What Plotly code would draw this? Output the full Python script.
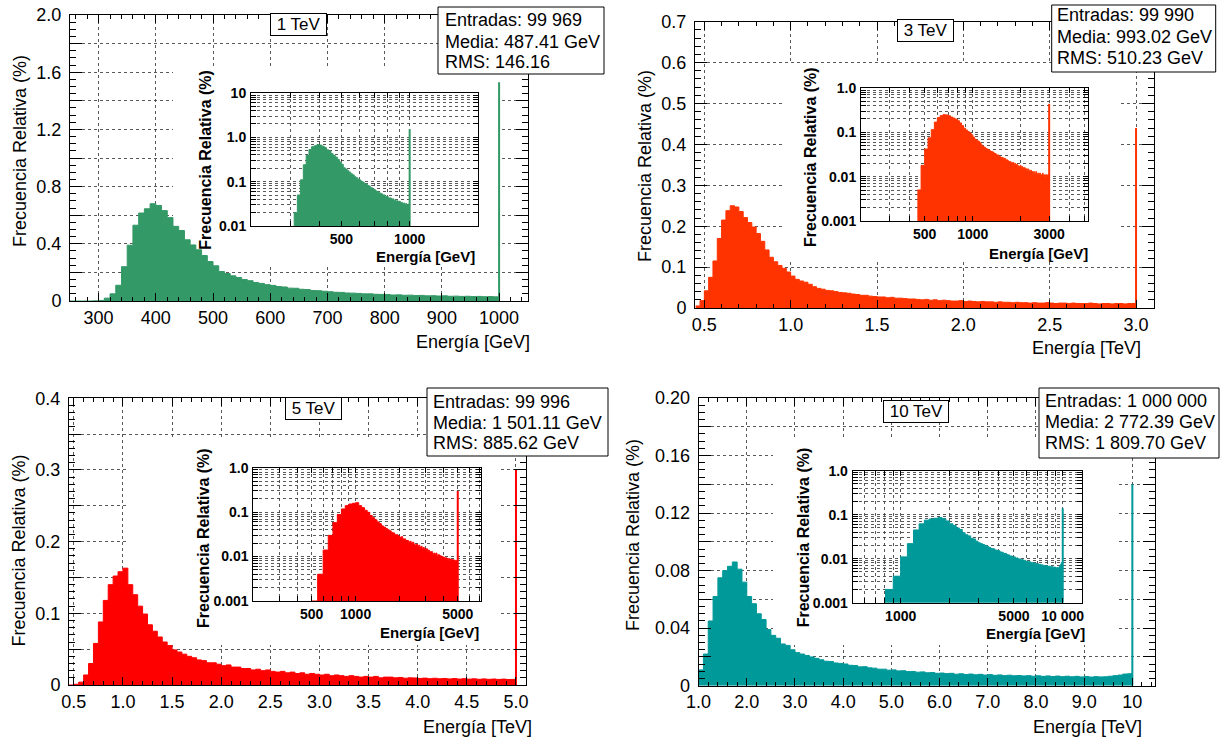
import math
import numpy as np
import plotly.graph_objects as go

W, H = 1221, 738
FONT = "Liberation Sans"

# ======================= DATA =======================
# --- 1 TeV (energy in GeV, bins of 10 GeV) ---
edges_1tev = np.arange(250, 1001, 10)
freq_1tev = [0, 0, 0, 0, 0.001, 0.004, 0.02, 0.05, 0.11, 0.24,
             0.39, 0.53, 0.615, 0.645, 0.68, 0.668, 0.632, 0.583, 0.522, 0.493,
             0.428, 0.392, 0.358, 0.318, 0.276, 0.246, 0.206, 0.192, 0.176, 0.164,
             0.150, 0.142, 0.129, 0.123, 0.114, 0.109, 0.101, 0.098, 0.090, 0.089,
             0.082, 0.080, 0.073, 0.072, 0.068, 0.065, 0.061, 0.060, 0.056, 0.055,
             0.053, 0.050, 0.050, 0.047, 0.046, 0.045, 0.042, 0.043, 0.040, 0.041,
             0.038, 0.039, 0.036, 0.037, 0.035, 0.036, 0.033, 0.034, 0.032, 0.033,
             0.031, 0.032, 0.030, 0.031, 0.029]
spike_energy_1tev, spike_freq_1tev = 1000, 1.53

# --- 3 TeV (energy in TeV, bins of 0.025 TeV) ---
edges_3tev = np.round(np.arange(0.45, 3.0001, 0.025), 4)
freq_3tev = [0.005, 0.018, 0.042, 0.075, 0.115, 0.17, 0.215, 0.238, 0.25, 0.247,
             0.236, 0.221, 0.209, 0.198, 0.182, 0.163, 0.142, 0.124, 0.113, 0.104,
             0.097, 0.088, 0.078, 0.070, 0.066, 0.063, 0.058, 0.052, 0.048, 0.046,
             0.043, 0.042, 0.040, 0.038, 0.037, 0.036, 0.034, 0.033, 0.031, 0.031,
             0.029, 0.028, 0.027, 0.027, 0.025, 0.026, 0.024, 0.024, 0.023, 0.022,
             0.022, 0.021, 0.020, 0.021, 0.019, 0.020, 0.018, 0.019, 0.018, 0.017,
             0.017, 0.018, 0.016, 0.017, 0.016, 0.015, 0.016, 0.015, 0.015, 0.014,
             0.015, 0.014, 0.014, 0.013, 0.014, 0.013, 0.013, 0.012, 0.013, 0.012,
             0.012, 0.013, 0.012, 0.011, 0.012, 0.012, 0.011, 0.012, 0.011, 0.011,
             0.011, 0.012, 0.011, 0.010, 0.011, 0.011, 0.010, 0.011, 0.011, 0.010,
             0.011, 0.011]
spike_energy_3tev, spike_freq_3tev = 3.0, 0.44

# --- 5 TeV (energy in TeV, bins of 0.05 TeV) ---
edges_5tev = np.round(np.arange(0.45, 5.0001, 0.05), 4)
freq_5tev = [0.0, 0.001, 0.004, 0.014, 0.03, 0.058, 0.088, 0.118, 0.14, 0.152,
             0.158, 0.163, 0.14, 0.126, 0.11, 0.099, 0.084, 0.075, 0.067, 0.06,
             0.055, 0.049, 0.046, 0.043, 0.040, 0.038, 0.035, 0.034, 0.031, 0.031,
             0.029, 0.027, 0.028, 0.025, 0.025, 0.023, 0.023, 0.021, 0.022, 0.020,
             0.021, 0.019, 0.018, 0.019, 0.017, 0.018, 0.016, 0.017, 0.015, 0.016,
             0.015, 0.014, 0.015, 0.013, 0.014, 0.013, 0.012, 0.013, 0.012, 0.011,
             0.012, 0.011, 0.012, 0.010, 0.011, 0.011, 0.010, 0.0105, 0.0095, 0.010,
             0.0098, 0.0092, 0.0096, 0.0088, 0.0094, 0.0087, 0.0091, 0.0085, 0.009, 0.0083,
             0.0088, 0.0082, 0.0086, 0.008, 0.0085, 0.0079, 0.0083, 0.0078, 0.0082, 0.0076,
             0.0078]
spike_energy_5tev, spike_freq_5tev = 5.0, 0.30

# --- 10 TeV (energy in TeV, bins of 0.1 TeV) ---
edges_10tev = np.round(np.arange(0.8, 10.0001, 0.1), 4)
freq_10tev = [0.002, 0.004,
              0.011, 0.022, 0.045, 0.062, 0.075, 0.080, 0.083, 0.086, 0.081, 0.072,
              0.062, 0.057, 0.050, 0.046, 0.039, 0.035, 0.033, 0.029, 0.028, 0.025,
              0.023, 0.022, 0.021, 0.020, 0.019, 0.018, 0.017, 0.0168, 0.0158, 0.0155,
              0.0151, 0.0142, 0.014, 0.0131, 0.0132, 0.0124, 0.0122, 0.0115, 0.0115, 0.0108,
              0.011, 0.0103, 0.0104, 0.0098, 0.0099, 0.0094, 0.0096, 0.009, 0.0092, 0.0086,
              0.0088, 0.0084, 0.0086, 0.008, 0.0083, 0.0078, 0.0081, 0.0076, 0.0079, 0.0074,
              0.0077, 0.0072, 0.0075, 0.007, 0.0073, 0.0069, 0.0071, 0.0068, 0.007, 0.0066,
              0.0069, 0.0065, 0.0068, 0.0064, 0.0067, 0.0063, 0.0066, 0.0062, 0.0065, 0.0061,
              0.0064, 0.006, 0.0063, 0.0061, 0.0062, 0.0066, 0.007, 0.0074, 0.0081, 0.0083]
spike_energy_10tev, spike_freq_10tev = 10.0, 0.14

# --- tick labels ---
x_ticks_1tev = [300, 400, 500, 600, 700, 800, 900, 1000]
x_labels_1tev = ["300", "400", "500", "600", "700", "800", "900", "1000"]
y_ticks_1tev = [0, 0.2, 0.4, 0.6, 0.8, 1.0, 1.2, 1.4, 1.6, 1.8, 2.0]
y_labels_1tev = ["0", "", "0.4", "", "0.8", "", "1.2", "", "1.6", "", "2.0"]

x_ticks_3tev = [0.5, 1.0, 1.5, 2.0, 2.5, 3.0]
x_labels_3tev = ["0.5", "1.0", "1.5", "2.0", "2.5", "3.0"]
y_ticks_3tev = [0, 0.1, 0.2, 0.3, 0.4, 0.5, 0.6, 0.7]
y_labels_3tev = ["0", "0.1", "0.2", "0.3", "0.4", "0.5", "0.6", "0.7"]

x_ticks_5tev = [0.5, 1.0, 1.5, 2.0, 2.5, 3.0, 3.5, 4.0, 4.5, 5.0]
x_labels_5tev = ["0.5", "1.0", "1.5", "2.0", "2.5", "3.0", "3.5", "4.0", "4.5", "5.0"]
y_ticks_5tev = [0, 0.05, 0.1, 0.15, 0.2, 0.25, 0.3, 0.35, 0.4]
y_labels_5tev = ["0", "", "0.1", "", "0.2", "", "0.3", "", "0.4"]

x_ticks_10tev = [1, 2, 3, 4, 5, 6, 7, 8, 9, 10]
x_labels_10tev = ["1.0", "2.0", "3.0", "4.0", "5.0", "6.0", "7.0", "8.0", "9.0", "10"]
y_ticks_10tev = [0, 0.02, 0.04, 0.06, 0.08, 0.10, 0.12, 0.14, 0.16, 0.18, 0.20]
y_labels_10tev = ["0", "", "0.04", "", "0.08", "", "0.12", "", "0.16", "", "0.20"]

inset_x_labeled_1tev = [500, 1000]
inset_x_text_1tev = ["500", "1000"]
inset_x_labeled_3tev = [500, 1000, 3000]
inset_x_text_3tev = ["500", "1000", "3000"]
inset_x_labeled_5tev = [500, 1000, 5000]
inset_x_text_5tev = ["500", "1000", "5000"]
inset_x_labeled_10tev = [1000, 5000, 10000]
inset_x_text_10tev = ["1000", "5000", "10 000"]

inset_y_labeled_1tev = [0.01, 0.1, 1, 10]
inset_y_text_1tev = ["0.01", "0.1", "1.0", "10"]
inset_y_labeled_other = [0.001, 0.01, 0.1, 1]
inset_y_text_other = ["0.001", "0.01", "0.1", "1.0"]

titles = ["1 TeV", "3 TeV", "5 TeV", "10 TeV"]
stats_1tev = ["Entradas: 99 969", "Media: 487.41 GeV", "RMS: 146.16"]
stats_3tev = ["Entradas: 99 990", "Media: 993.02 GeV", "RMS: 510.23 GeV"]
stats_5tev = ["Entradas: 99 996", "Media: 1 501.11 GeV", "RMS: 885.62 GeV"]
stats_10tev = ["Entradas: 1 000 000", "Media: 2 772.39 GeV", "RMS: 1 809.70 GeV"]

y_title = "Frecuencia Relativa (%)"
x_titles = ["Energía [GeV]", "Energía [TeV]", "Energía [TeV]", "Energía [TeV]"]
inset_x_title = "Energía [GeV]"

# ======================= STYLE / GEOMETRY =======================
colors = ["#339966", "#FF3300", "#FF0000", "#009999"]
to_gev = [1, 1000, 1000, 1000]

main_px = [(70, 527.7, 15, 301), (695, 1154, 21.7, 308),
           (69, 526.4, 398.3, 685), (698.6, 1155, 398, 685.7)]
inset_px = [(251, 478, 93, 226), (861, 1088, 88, 221),
            (253.3, 481, 467.7, 601), (852.7, 1081.7, 470.7, 602.7)]
pad_px = [(173, 500, 68, 265), (783, 1118, 64, 262),
          (127, 500, 437, 645), (773, 1118, 440, 645)]
main_xrange = [[250, 1050], [0.446, 3.104], [0.451, 5.106], [1.0, 10.47]]
main_yrange = [[0, 2.0], [0, 0.7], [0, 0.4], [0, 0.2]]
main_xminor = [20, 0.1, 0.1, 0.2]
main_yminor = [0.05, 0.02, 0.01, 0.005]
inset_xrange = [[2.301, 3.301], [2.301, 3.72], [2.3, 3.858], [2.704, 4.117]]
inset_yrange = [[-2, 1], [-3, 0], [-3, 0], [-3, 0]]

main_ytitle_c = [(20, 151), (645, 166), (18.6, 551), (633, 535)]
main_xtitle_r = [(531.7, 342), (1143, 348), (534, 727), (1144, 727)]
inset_ytitle_c = [(204.7, 160), (810, 157), (203, 538), (803.3, 537)]
inset_xtitle_r = [(477, 256.5), (1090, 253), (481, 632.5), (1086.7, 633)]
title_c = [(298.2, 24.5), (925.8, 30.7), (313.7, 408.5), (916, 411.2)]
stats_box = [(438, 604, 7, 74), (1051.7, 1215.7, 5, 72), (427, 608, 388, 456), (1039, 1219, 388, 458)]
stats_txt = [(442.7, [20, 41.7, 61.7]), (1055, [15, 36.7, 58.3]),
             (431, [401.7, 422.7, 443.3]), (1043, [400.7, 421.7, 442.7])]


def dx(a, b):
    return [a / W, b / W]


def dy(t, b):
    return [1 - b / H, 1 - t / H]


def aid(n):
    return "" if n == 1 else str(n)


def log_ticks(lo_log, hi_log, labeled, texts):
    vals, txt = [], []
    for k in range(-4, 6):
        for n in range(1, 10):
            v = n * 10.0 ** k
            lv = math.log10(v)
            if lo_log - 1e-6 <= lv <= hi_log + 1e-6:
                vals.append(v)
                t = ""
                for lab, tt in zip(labeled, texts):
                    if math.isclose(lab, v, rel_tol=1e-6):
                        t = tt
                txt.append(t)
    return vals, txt


edges_all = [edges_1tev, edges_3tev, edges_5tev, edges_10tev]
freq_all = [freq_1tev, freq_3tev, freq_5tev, freq_10tev]
for e, f in zip(edges_all, freq_all):
    assert len(e) == len(f) + 1, (len(e), len(f))
spikes = [(spike_energy_1tev, spike_freq_1tev), (spike_energy_3tev, spike_freq_3tev),
          (spike_energy_5tev, spike_freq_5tev), (spike_energy_10tev, spike_freq_10tev)]
x_ticks = [x_ticks_1tev, x_ticks_3tev, x_ticks_5tev, x_ticks_10tev]
x_labels = [x_labels_1tev, x_labels_3tev, x_labels_5tev, x_labels_10tev]
y_ticks = [y_ticks_1tev, y_ticks_3tev, y_ticks_5tev, y_ticks_10tev]
y_labels = [y_labels_1tev, y_labels_3tev, y_labels_5tev, y_labels_10tev]
inset_xl = [(inset_x_labeled_1tev, inset_x_text_1tev), (inset_x_labeled_3tev, inset_x_text_3tev),
            (inset_x_labeled_5tev, inset_x_text_5tev), (inset_x_labeled_10tev, inset_x_text_10tev)]
inset_yl = [(inset_y_labeled_1tev, inset_y_text_1tev)] + [(inset_y_labeled_other, inset_y_text_other)] * 3
stats_all = [stats_1tev, stats_3tev, stats_5tev, stats_10tev]

fig = go.Figure()
layout = {}
annotations = []
box_shapes = []
pad_shapes = []

grid_common = dict(showgrid=True, gridcolor="rgba(60,60,60,0.85)", griddash="dot", gridwidth=1,
                   zeroline=False, showline=True, linecolor="black", linewidth=1,
                   mirror="allticks", ticks="inside", tickcolor="black", tickwidth=1,
                   automargin=False)

for i in range(4):
    m = aid(i + 1)     # main axes id
    s = aid(i + 5)     # inset axes id
    c = colors[i]
    edges = edges_all[i]
    freq = freq_all[i]
    ystep = list(freq) + [freq[-1]]
    xl, xr, yt, yb = main_px[i]
    ixl, ixr, iyt, iyb = inset_px[i]

    # ---- main histogram ----
    fig.add_trace(go.Scatter(x=edges, y=ystep, mode="lines", line=dict(shape="hv", color=c, width=1),
                             fill="tozeroy", fillcolor=c, xaxis=f"x{m}", yaxis=f"y{m}",
                             hoverinfo="skip", showlegend=False))
    se, sf = spikes[i]
    fig.add_trace(go.Scatter(x=[se, se], y=[0, sf], mode="lines", line=dict(color=c, width=2),
                             xaxis=f"x{m}", yaxis=f"y{m}", hoverinfo="skip", showlegend=False))

    # ---- inset histogram (log-log, GeV) ----
    fig.add_trace(go.Scatter(x=np.asarray(edges) * to_gev[i], y=ystep, mode="lines",
                             line=dict(shape="hv", color=c, width=1),
                             fill="tozeroy", fillcolor=c, xaxis=f"x{s}", yaxis=f"y{s}",
                             hoverinfo="skip", showlegend=False))
    fig.add_trace(go.Scatter(x=[se * to_gev[i]] * 2, y=[10 ** inset_yrange[i][0], sf], mode="lines",
                             line=dict(color=c, width=2), xaxis=f"x{s}", yaxis=f"y{s}",
                             hoverinfo="skip", showlegend=False))

    # ---- main axes ----
    layout[f"xaxis{m}"] = dict(domain=dx(xl, xr), anchor=f"y{m}", range=main_xrange[i],
                               tickvals=x_ticks[i], ticktext=x_labels[i], ticklen=8,
                               tickfont=dict(family=FONT, size=18, color="black"),
                               minor=dict(dtick=main_xminor[i], tick0=0, ticklen=4, ticks="inside",
                                          tickcolor="black", showgrid=False),
                               **grid_common)
    layout[f"yaxis{m}"] = dict(domain=dy(yt, yb), anchor=f"x{m}", range=main_yrange[i],
                               tickvals=y_ticks[i], ticktext=y_labels[i], ticklen=12,
                               ticklabelstandoff=4,
                               tickfont=dict(family=FONT, size=18, color="black"),
                               minor=dict(dtick=main_yminor[i], tick0=0, ticklen=6, ticks="inside",
                                          tickcolor="black", showgrid=False),
                               **grid_common)

    # ---- inset axes ----
    xv, xt = log_ticks(inset_xrange[i][0], inset_xrange[i][1], *inset_xl[i])
    yv, yt_ = log_ticks(inset_yrange[i][0], inset_yrange[i][1], *inset_yl[i])
    bold = dict(family=FONT, size=14, color="black", weight="bold")
    layout[f"xaxis{s}"] = dict(domain=dx(ixl, ixr), anchor=f"y{s}", type="log", range=inset_xrange[i],
                               tickvals=xv, ticktext=xt, ticklen=5, tickfont=bold, **grid_common)
    layout[f"yaxis{s}"] = dict(domain=dy(iyt, iyb), anchor=f"x{s}", type="log", range=inset_yrange[i],
                               tickvals=yv, ticktext=yt_, ticklen=5, tickfont=bold,
                               ticklabelstandoff=1, **grid_common)

    # ---- white pad (between grid and traces of main subplot), in main data coords ----
    px0, px1, py0, py1 = pad_px[i]
    xa0, xa1 = main_xrange[i]
    ya0, ya1 = main_yrange[i]
    pad_shapes.append(dict(type="rect", xref=f"x{m}", yref=f"y{m}", layer="between",
                           x0=xa0 + (px0 - xl) / (xr - xl) * (xa1 - xa0),
                           x1=xa0 + (px1 - xl) / (xr - xl) * (xa1 - xa0),
                           y0=ya0 + (yb - py1) / (yb - yt) * (ya1 - ya0),
                           y1=ya0 + (yb - py0) / (yb - yt) * (ya1 - ya0),
                           fillcolor="white", line=dict(width=0)))

    # ---- titles ----
    cx, cy = main_ytitle_c[i]
    annotations.append(dict(text=y_title, x=cx / W, y=1 - cy / H, xref="paper", yref="paper",
                            textangle=-90, showarrow=False, xanchor="center", yanchor="middle",
                            font=dict(family=FONT, size=18, color="black")))
    rx, ry = main_xtitle_r[i]
    annotations.append(dict(text=x_titles[i], x=rx / W, y=1 - ry / H, xref="paper", yref="paper",
                            showarrow=False, xanchor="right", yanchor="middle",
                            font=dict(family=FONT, size=18, color="black")))
    cx, cy = inset_ytitle_c[i]
    annotations.append(dict(text=y_title, x=cx / W, y=1 - cy / H, xref="paper", yref="paper",
                            textangle=-90, showarrow=False, xanchor="center", yanchor="middle",
                            font=dict(family=FONT, size=16, color="black", weight="bold")))
    rx, ry = inset_xtitle_r[i]
    annotations.append(dict(text=inset_x_title, x=rx / W, y=1 - ry / H, xref="paper", yref="paper",
                            showarrow=False, xanchor="right", yanchor="middle",
                            font=dict(family=FONT, size=15, color="black", weight="bold")))
    tx, ty = title_c[i]
    annotations.append(dict(text="\u00a0" + titles[i] + "\u00a0", x=tx / W, y=1 - ty / H,
                            xref="paper", yref="paper", showarrow=False,
                            xanchor="center", yanchor="middle", bgcolor="white",
                            bordercolor="black", borderwidth=1, borderpad=1,
                            font=dict(family=FONT, size=17, color="black")))

    # ---- stats box ----
    bx0, bx1, by0, by1 = stats_box[i]
    box_shapes.append(dict(type="rect", xref="paper", yref="paper", layer="above",
                           x0=bx0 / W, x1=bx1 / W, y0=1 - by1 / H, y1=1 - by0 / H,
                           fillcolor="white", line=dict(color="black", width=1)))
    lx, lys = stats_txt[i]
    for line, ly in zip(stats_all[i], lys):
        annotations.append(dict(text=line, x=lx / W, y=1 - ly / H, xref="paper", yref="paper",
                                showarrow=False, xanchor="left", yanchor="middle",
                                font=dict(family=FONT, size=18, color="black")))

fig.update_layout(width=W, height=H, margin=dict(l=0, r=0, t=0, b=0, autoexpand=False),
                  paper_bgcolor="white", plot_bgcolor="white", showlegend=False,
                  annotations=annotations, shapes=box_shapes + pad_shapes, **layout)

fig.write_html("out.html")
